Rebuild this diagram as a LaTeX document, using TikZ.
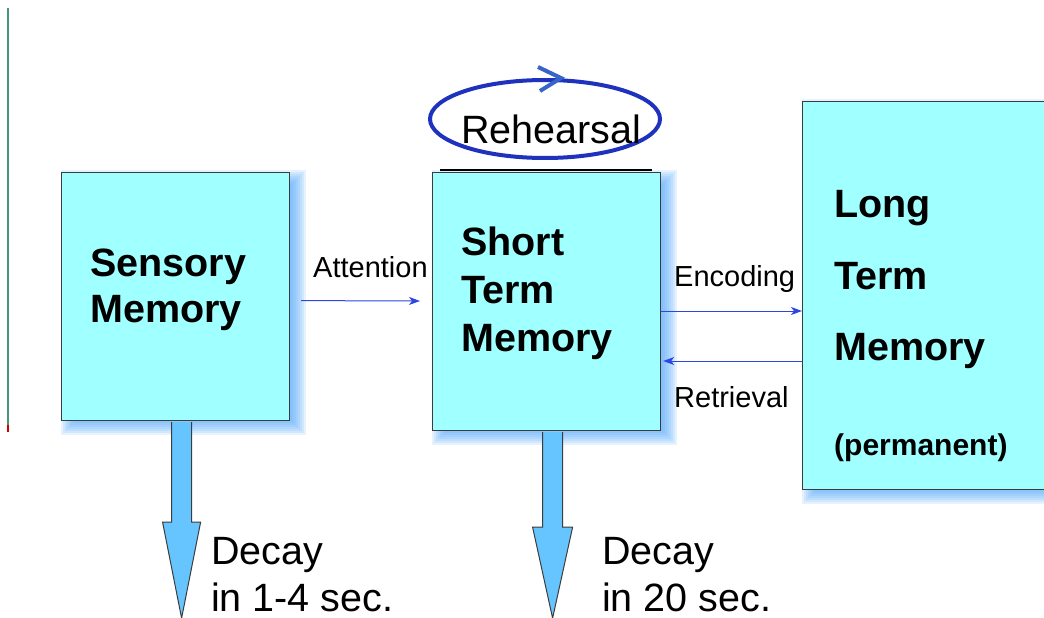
\documentclass[tikz,border=0pt]{standalone}
\usepackage{fontspec}
\setmainfont{Liberation Sans}
\usetikzlibrary{backgrounds,shapes.geometric,arrows.meta}
\definecolor{boxfill}{RGB}{160,255,255}
\definecolor{boxline}{RGB}{60,60,60}
\definecolor{arrowblue}{RGB}{45,70,225}
\definecolor{ellblue}{RGB}{30,50,190}
\definecolor{chevblue}{RGB}{55,100,200}
\definecolor{decayfill}{RGB}{102,197,255}
\definecolor{shadowc}{RGB}{80,165,250}
\definecolor{greenline}{RGB}{70,150,120}
\begin{document}
\begin{tikzpicture}[x=1pt,y=-1pt,
 membox/.style={draw=boxline, line width=1.2pt, fill=boxfill, inner sep=0pt, anchor=north west},
 bigbold/.style={font=\fontsize{39.5}{44}\selectfont\bfseries, anchor=base west, inner sep=0pt},
 smallbold/.style={font=\fontsize{30}{32}\selectfont\bfseries, anchor=base west, inner sep=0pt},
 biglbl/.style={font=\fontsize{39.5}{44}\selectfont, anchor=base west, inner sep=0pt},
 smalllbl/.style={font=\fontsize{29}{32}\selectfont, anchor=base west, inner sep=0pt},
 link/.style={draw=arrowblue, line width=1pt, -{Stealth[length=11pt,width=8pt,inset=3pt]}},
 decayarrow/.style={draw=boxline, line width=1pt, fill=decayfill, line join=miter},
 shadowlayer/.style={fill=shadowc, opacity=0.14},
]
\useasboundingbox (0,0) rectangle (1044,618);

% left margin line
\draw[greenline, line width=1.2pt] (8,8) -- (8,425);
\draw[red!80!black, line width=1.2pt] (8,425) -- (8,432);

% boxes
\node[membox, minimum width=228pt, minimum height=248pt] (sens) at (61,172) {};
\node[membox, minimum width=228pt, minimum height=258pt] (stm) at (432,172) {};
\node[membox, minimum width=260pt, minimum height=388pt] (ltm) at (802,101) {};

% shadows
\begin{scope}[on background layer]
\foreach \n in {sens,stm,ltm}{
  \foreach \k in {0,...,7}{
    \fill[shadowlayer] ([shift={(2*\k,-2+2*\k)}]\n.north west) rectangle ([shift={(16-2*\k,14-2*\k)}]\n.south east);
  }
}
\end{scope}

% line on top of STM
\draw[black, line width=1.8pt] ([shift={(8,-2)}]stm.north west) -- ([shift={(-9,-2)}]stm.north east);

% box texts
\node[bigbold] (t1) at (90,276) {Sensory};
\node[bigbold] (t2) at (90,322) {Memory};
\node[bigbold] (t3) at (461,255) {Short};
\node[bigbold] (t4) at (461,303) {Term};
\node[bigbold] (t5) at (461,351) {Memory};
\node[bigbold] (t6) at (834,217) {Long};
\node[bigbold] (t7) at (834,289) {Term};
\node[bigbold] (t8) at (834,360) {Memory};
\node[smallbold] (t9) at (834,455) {(permanent)};

% rehearsal loop
\node[ellipse, draw=ellblue, line width=4pt, minimum width=230pt, minimum height=78pt, inner sep=0pt] (reh) at (545,119) {};
\draw[chevblue, line width=4pt, line join=miter] ([shift={(-7,-11)}]reh.north) -- ([shift={(16,0)}]reh.north) -- ([shift={(-5,13)}]reh.north);
\node[biglbl] (rehl) at (461,143) {Rehearsal};

% connectors
\node[smalllbl] (att) at (313,277) {Attention};
\draw[link] ([shift={(11,4)}]sens.east) -- ([shift={(-12,0)}]stm.west |- 0,301);
\node[smalllbl] (enc) at (674,286) {Encoding};
\coordinate (ency) at (0,311);
\coordinate (rety) at (0,361);
\draw[link] (stm.east |- ency) -- (ltm.west |- ency);
\draw[link] (ltm.west |- rety) -- ([xshift=2pt]stm.east |- rety);
\node[smalllbl] (ret) at (674,407) {Retrieval};

% decay arrows
\draw[decayarrow] ([shift={(-4,1)}]sens.south) -- ([shift={(-4,101)}]sens.south) -- ([shift={(-13,101)}]sens.south) -- ([shift={(6,197)}]sens.south) -- ([shift={(25,101)}]sens.south) -- ([shift={(16,101)}]sens.south) -- ([shift={(16,1)}]sens.south);
\draw[decayarrow] ([shift={(-4,1)}]stm.south) -- ([shift={(-4,96)}]stm.south) -- ([shift={(-14,96)}]stm.south) -- ([shift={(6,187)}]stm.south) -- ([shift={(26,96)}]stm.south) -- ([shift={(16,96)}]stm.south) -- ([shift={(16,1)}]stm.south);

\node[biglbl] (d1) at (211,564) {Decay};
\node[biglbl] (d2) at (211,611) {in 1-4 sec.};
\node[biglbl] (d3) at (602,564) {Decay};
\node[biglbl] (d4) at (602,611) {in 20 sec.};
\end{tikzpicture}
\end{document}
